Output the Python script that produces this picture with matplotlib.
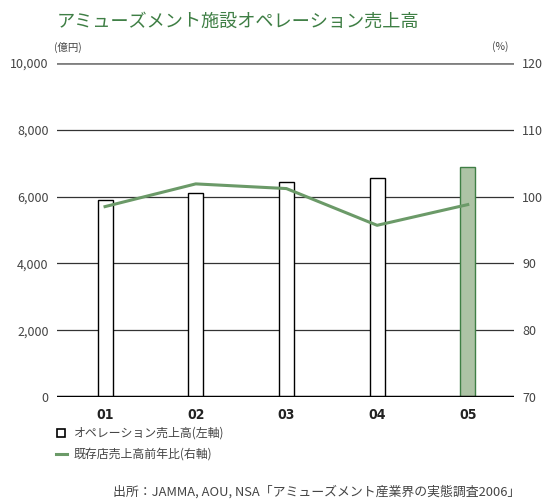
import matplotlib.pyplot as plt
from matplotlib.patches import Rectangle
from matplotlib.lines import Line2D

plt.rcParams['font.family'] = ['Noto Sans CJK JP', 'DejaVu Sans']

# data
years = ["01", "02", "03", "04", "05"]
sales = [5900, 6100, 6430, 6550, 6880]          # operation sales (100M yen), left axis
yoy = [98.5, 101.9, 101.2, 95.7, 98.8]          # existing-store YoY (%), right axis
left_ticks = [0, 2000, 4000, 6000, 8000, 10000]
right_ticks = [70, 80, 90, 100, 110, 120]

green = '#3f7f45'
line_green = '#6b9a68'
txt = '#444444'

fig = plt.figure(figsize=(5.46, 5.01), dpi=100)
ax = fig.add_axes([0.1044, 0.2076, 0.837, 0.6667])
x = list(range(len(years)))

# gridlines
for v in left_ticks[1:-1]:
    ax.axhline(v, color='#333333', lw=0.9, zorder=1)
ax.axhline(10000, color='#808080', lw=2, zorder=1)

colors = ['white'] * 4 + ['#adc3a5']
edges = ['black'] * 4 + [green]
ax.bar(x, sales, width=0.165, color=colors, edgecolor=edges, linewidth=1, zorder=2)
ax.axhline(0, color='black', lw=2.5, zorder=3)

ax.set_xlim(-0.53, 4.51)
ax.set_ylim(0, 10000)
ax.set_yticks(left_ticks)
ax.set_yticklabels([f"{v:,}" for v in left_ticks], fontsize=9, color=txt)
ax.set_xticks(x)
ax.set_xticklabels(years, fontsize=10, fontweight='bold', fontstretch='condensed',
                   family='DejaVu Sans', color='#222222')
ax.tick_params(axis='both', length=0, pad=6)
ax.tick_params(axis='x', pad=8)
for s in ax.spines.values():
    s.set_visible(False)

ax2 = ax.twinx()
ax2.plot(x, yoy, color=line_green, lw=2.2, zorder=4)
ax2.set_ylim(70, 120)
ax2.set_yticks(right_ticks)
ax2.set_yticklabels([str(v) for v in right_ticks], fontsize=9, color=txt)
ax2.tick_params(axis='y', length=0, pad=6)
for s in ax2.spines.values():
    s.set_visible(False)

# titles and unit labels
fig.text(57 / 546, 1 - 22 / 501, "アミューズメント施設オペレーション売上高", fontsize=13.1,
         color=green, va='center', ha='left')
fig.text(54 / 546, 1 - 47 / 501, "(億円)", fontsize=7.5, color=txt, va='center', ha='left')
fig.text(500 / 546, 1 - 47 / 501, "(%)", fontsize=7.5, color=txt, va='center', ha='center')

# legend
fig.patches.append(Rectangle((57 / 546, 1 - 437 / 501), 8 / 546, 8 / 501, transform=fig.transFigure,
                             facecolor='white', edgecolor='black', lw=1.2))
fig.text(74 / 546, 1 - 433 / 501, "オペレーション売上高(左軸)", fontsize=8.6, color=txt, va='center')
fig.lines.append(Line2D([56 / 546, 67 / 546], [1 - 454 / 501, 1 - 454 / 501], transform=fig.transFigure,
                        color=line_green, lw=2.2))
fig.text(74 / 546, 1 - 454 / 501, "既存店売上高前年比(右軸)", fontsize=8.6, color=txt, va='center')

fig.text(113 / 546, 1 - 492 / 501, "出所：JAMMA, AOU, NSA「アミューズメント産業界の実態調査2006」",
         fontsize=9.3, color=txt, va='center', ha='left')

fig.savefig("out.png", dpi=100)
